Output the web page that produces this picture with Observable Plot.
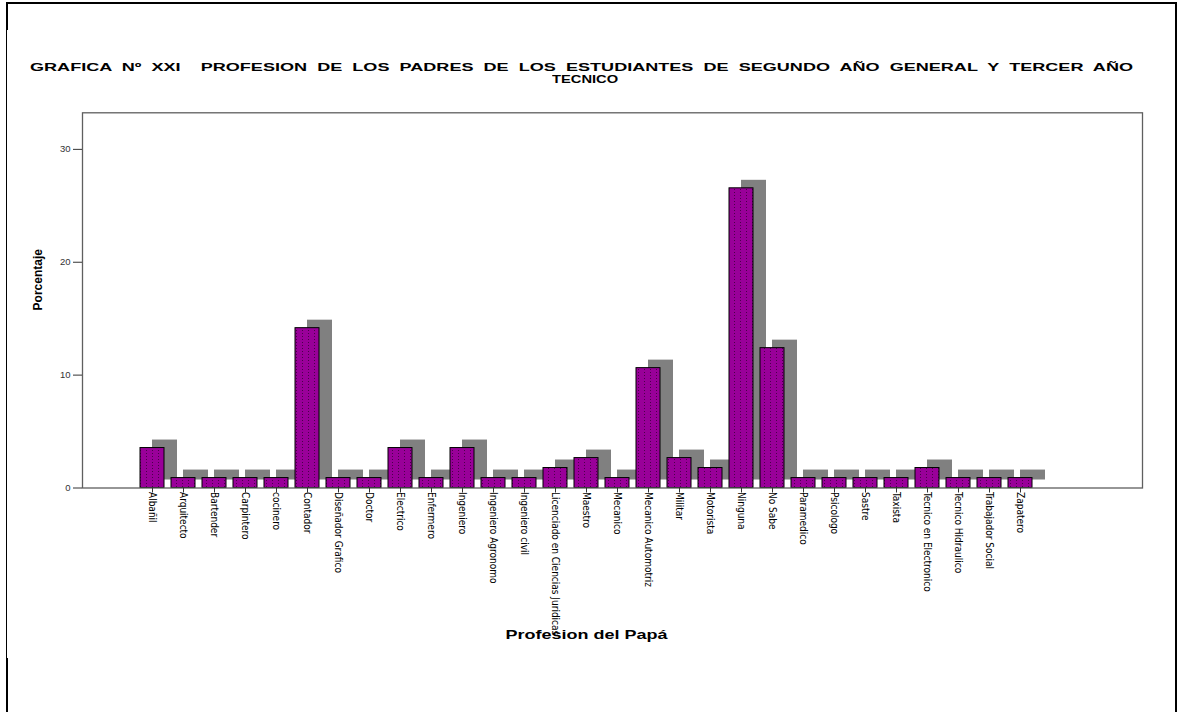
<!DOCTYPE html>
<html>
<head>
<meta charset="utf-8">
<script src="https://cdn.jsdelivr.net/npm/d3@7"></script>
<script src="https://cdn.jsdelivr.net/npm/@observablehq/plot@0.6"></script>
<style>
  body { margin: 0; background: #fff; }
  #page { position: relative; width: 1177px; height: 712px; overflow: hidden; background: #fff;
          font-family: Arial, "Liberation Sans", sans-serif; }
  #head { position: relative; height: 95px; }
  .tl { position: absolute; font-weight: bold; font-size: 10.5px; line-height: 9px;
        white-space: pre; transform-origin: 0 0; color: #000; }
  #chart { position: relative; }
  .bd { position: absolute; background: #000; }
</style>
</head>
<body>
<div id="page">
  <div id="head"><span class="tl" id="t1"></span><span class="tl" id="t2"></span></div>
  <div id="chart"></div>
  <div class="bd" style="left:6px;top:2px;width:1171px;height:2px"></div>
  <div class="bd" style="left:6px;top:2px;width:2px;height:28px"></div>
  <div class="bd" style="left:6px;top:30px;width:1px;height:628px"></div>
  <div class="bd" style="left:6px;top:658px;width:2px;height:54px"></div>
  <div class="bd" style="left:1175px;top:2px;width:2px;height:710px"></div>
</div>
<script>
// ---- data ----
const titleLines = [
  "GRAFICA Nº XXI  PROFESION DE LOS PADRES DE LOS ESTUDIANTES DE SEGUNDO AÑO GENERAL Y TERCER AÑO",
  "TECNICO"
];
const categories = [
  "Albañil", "Arquitecto", "Bartender", "Carpintero", "cocinero", "Contador",
  "Diseñador Grafico", "Doctor", "Electrico", "Enfermero", "Ingeniero",
  "Ingeniero Agronomo", "Ingeniero civil", "Licenciado en Ciencias Juridicas",
  "Maestro", "Mecanico", "Mecanico Automotriz", "Militar", "Motorista", "Ninguna",
  "No Sabe", "Paramedico", "Psicologo", "Sastre", "Taxista", "Tecnico en Electronico",
  "Tecnico Hidraulico", "Trabajador Social", "Zapatero"
];
const percentages = [
  3.54, 0.88, 0.88, 0.88, 0.88, 14.16,
  0.88, 0.88, 3.54, 0.88, 3.54,
  0.88, 0.88, 1.77,
  2.65, 0.88, 10.62, 2.65, 1.77, 26.55,
  12.39, 0.88, 0.88, 0.88, 0.88, 1.77,
  0.88, 0.88, 0.88
];
const yTicks = [0, 10, 20, 30];
const yLabel = "Porcentaje";
const xLabel = "Profesion del Papá";

// ---- title ----
const sx = 1.72;
const t1 = document.getElementById("t1");
t1.textContent = titleLines[0];
const w1 = t1.getBoundingClientRect().width;
const nSpaces = (titleLines[0].match(/ /g) || []).length;
t1.style.wordSpacing = Math.max(0, (1103 / sx - w1) / nSpaces) + "px";
t1.style.left = "30px";
t1.style.top = "62.6px";
t1.style.transform = `scaleX(${sx})`;

const t2 = document.getElementById("t2");
t2.textContent = titleLines[1];
const w2 = t2.getBoundingClientRect().width;
const sx2 = 1.4;
t2.style.left = (585 - sx2 * w2 / 2) + "px";
t2.style.top = "74.8px";
t2.style.transform = `scaleX(${sx2})`;

// ---- chart ----
const data = categories.map((c, i) => ({cat: c, pct: percentages[i]}));
const narrow = "'Liberation Sans Narrow', 'Arial Narrow', 'DejaVu Sans Condensed', sans-serif";

const chart = Plot.plot({
  width: 1177,
  height: 600,
  marginTop: 17.3,
  marginLeft: 82,
  marginRight: 35,
  marginBottom: 207.5,
  style: {fontFamily: "Arial, 'Liberation Sans', sans-serif", background: "transparent", overflow: "visible"},
  x: {type: "band", domain: categories, range: [136, 1035.5], paddingInner: 0.24, paddingOuter: 0, align: 0.5, axis: null},
  y: {domain: [0, 33.24], axis: null},
  marks: [
    Plot.barY(data, {x: "cat", y: "pct", fill: "#808080", dx: 12, dy: -8, insetRight: -1}),
    Plot.barY(data, {x: "cat", y: "pct", fill: "url(#dots)", stroke: "#000", strokeWidth: 1}),
    Plot.frame({stroke: "#5f5f5f", strokeWidth: 1.3}),
    Plot.axisY({ticks: yTicks, tickSize: 9, tickPadding: 3, fontSize: 9.5, label: null, color: "#333"}),
    Plot.axisX({tickSize: 5, tickFormat: () => "", label: null, color: "#333"}),
    Plot.text(categories, {x: d => d, text: d => d, frameAnchor: "bottom", rotate: 90, textAnchor: "start",
                           dx: -4, dy: 4, fontSize: 10, fontFamily: narrow, fill: "#000"}),
    Plot.text([yLabel], {text: d => d, frameAnchor: "left", rotate: -90, dx: -44, dy: 10,
                         fontSize: 12, fontWeight: "bold", fill: "#000"}),
    Plot.text([xLabel], {text: d => d, frameAnchor: "bottom", dx: -26, dy: 150.5,
                         fontSize: 12.5, fontWeight: "bold", fill: "#000"})
  ]
});

const svg = chart.tagName.toLowerCase() === "svg" ? chart : chart.querySelector("svg");
const NS = "http://www.w3.org/2000/svg";
const defs = document.createElementNS(NS, "defs");
const pat = document.createElementNS(NS, "pattern");
pat.setAttribute("id", "dots");
pat.setAttribute("patternUnits", "userSpaceOnUse");
pat.setAttribute("width", "6");
pat.setAttribute("height", "3");
const bg = document.createElementNS(NS, "rect");
bg.setAttribute("width", "6"); bg.setAttribute("height", "3"); bg.setAttribute("fill", "#990099");
const dot = document.createElementNS(NS, "rect");
dot.setAttribute("x", "2"); dot.setAttribute("y", "1"); dot.setAttribute("width", "1"); dot.setAttribute("height", "1");
dot.setAttribute("fill", "#4a004a");
pat.appendChild(bg); pat.appendChild(dot); defs.appendChild(pat);
svg.insertBefore(defs, svg.firstChild);

document.getElementById("chart").appendChild(chart);

svg.querySelectorAll("text").forEach(t => {
  if (t.textContent === xLabel) {
    t.setAttribute("textLength", "162");
    t.setAttribute("lengthAdjust", "spacingAndGlyphs");
  }
});
</script>
</body>
</html>
